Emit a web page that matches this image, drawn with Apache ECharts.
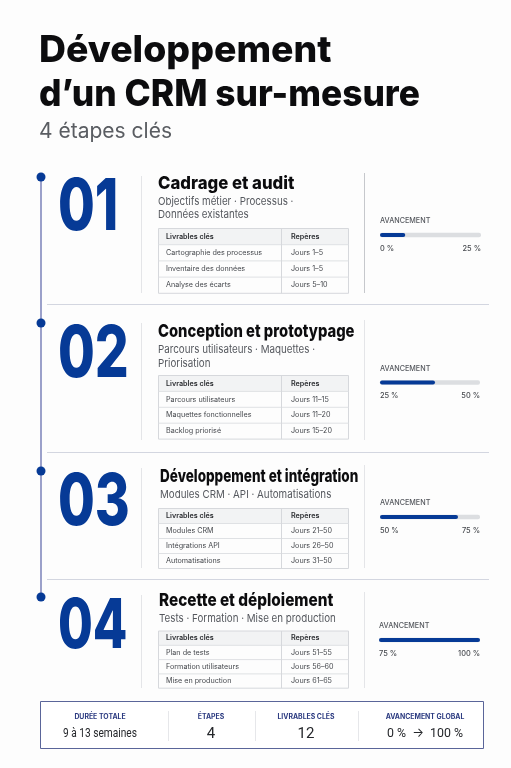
<!DOCTYPE html>
<html lang="fr">
<head>
<meta charset="utf-8">
<title>Développement d’un CRM sur-mesure</title>
<style>
  html, body { margin: 0; padding: 0; background: #fdfdfd; }
  #chart { width: 511px; height: 768px; }
</style>
</head>
<body>
<div id="chart"></div>
<script src="https://cdn.jsdelivr.net/npm/echarts@6/dist/echarts.min.js"></script>
<script>
const titleLines = ['Développement', 'd’un CRM sur-mesure'];
const subtitle = '4 étapes clés';

const stepNumbers = ['01', '02', '03', '04'];
const stepTitles = ['Cadrage et audit', 'Conception et prototypage', 'Développement et intégration', 'Recette et déploiement'];
const stepSubtitles = [
  ['Objectifs métier · Processus ·', 'Données existantes'],
  ['Parcours utilisateurs · Maquettes ·', 'Priorisation'],
  ['Modules CRM · API · Automatisations'],
  ['Tests · Formation · Mise en production']
];
const tableHeaders = ['Livrables clés', 'Repères'];
const deliverables = [
  ['Cartographie des processus', 'Inventaire des données', 'Analyse des écarts'],
  ['Parcours utilisateurs', 'Maquettes fonctionnelles', 'Backlog priorisé'],
  ['Modules CRM', 'Intégrations API', 'Automatisations'],
  ['Plan de tests', 'Formation utilisateurs', 'Mise en production']
];
const milestones = [
  ['Jours 1–5', 'Jours 1–5', 'Jours 5–10'],
  ['Jours 11–15', 'Jours 11–20', 'Jours 15–20'],
  ['Jours 21–50', 'Jours 26–50', 'Jours 31–50'],
  ['Jours 51–55', 'Jours 56–60', 'Jours 61–65']
];
const progressName = 'AVANCEMENT';
const progressFill = [25, 55, 78, 100];
const progressStart = ['0 %', '25 %', '50 %', '75 %'];
const progressEnd = ['25 %', '50 %', '75 %', '100 %'];

const summaryLabels = ['DURÉE TOTALE', 'ÉTAPES', 'LIVRABLES CLÉS', 'AVANCEMENT GLOBAL'];
const summaryValues = ['9 à 13 semaines', '4', '12', '0 %  →  100 %'];

// layout, one entry per step
const layout = [
  { dot: 177, num: 208, numSx: 0.74, numSy: 1, title: 184, titleX: 158, titleSx: 0.93, sub: 201.5, subGap: 13.5, table: 228.5, rowH: 16.2, barTop: 233, barLabel: 221, x: 380, w: 101, divTop: 173, divBot: 293, rule: 304.5 },
  { dot: 323, num: 355, numSx: 0.74, numSy: 1, title: 331.5, titleX: 158, titleSx: 0.82, sub: 350, subGap: 13.5, table: 375.5, rowH: 15.9, barTop: 380.5, barLabel: 369, x: 380, w: 100, divTop: 320, divBot: 440, rule: 452.5 },
  { dot: 471, num: 503, numSx: 0.74, numSy: 1, title: 476.5, titleX: 160, titleSx: 0.75, sub: 494.5, subGap: 13.5, table: 508.5, rowH: 15, barTop: 515, barLabel: 503, x: 380, w: 100, divTop: 465, divBot: 568, rule: 579.5 },
  { dot: 597, num: 627, numSx: 0.7, numSy: 0.95, title: 600.5, titleX: 159, titleSx: 0.85, sub: 618.5, subGap: 13.5, table: 631, rowH: 14.3, barTop: 638, barLabel: 626, x: 379, w: 101, divTop: 592, divBot: 688 }
];
const footerCols = [100, 211, 306, 425];
const footerDividers = [168.5, 255.5, 358.5];
const footerSx = [0.78, 1, 1, 0.95];
const footerFont = [13, 15, 15, 13];

const NAVY = '#063a96';
const LINE = '#5a63a8';
const SANS = 'Inter, "Noto Sans", sans-serif';
const COND = 'Roboto, Inter, sans-serif';

function text(str, x, y, font, fill, opts) {
  const o = opts || {};
  return {
    type: 'text', x: x, y: y, scaleX: o.sx || 1, scaleY: o.sy || 1, silent: true, z: 5,
    style: { text: str, font: font, fill: fill, textAlign: o.align || 'left', textVerticalAlign: 'middle' }
  };
}
function line(x1, y1, x2, y2, color, width, z) {
  return {
    type: 'line', silent: true, z: z || 2,
    shape: { x1: x1, y1: y1, x2: x2, y2: y2 },
    style: { stroke: color, lineWidth: width || 1 }
  };
}
function rect(x, y, w, h, fill, stroke) {
  return {
    type: 'rect', silent: true, z: 1,
    shape: { x: x, y: y, width: w, height: h },
    style: { fill: fill, stroke: stroke || null, lineWidth: 1 }
  };
}

const graphics = [];
graphics.push(text(titleLines[0], 39, 51, '800 37px ' + SANS, '#0c0c0e', { sx: 1.01 }));
graphics.push(text(titleLines[1], 39, 95, '800 37px ' + SANS, '#0c0c0e', { sx: 0.955 }));
graphics.push(text(subtitle, 39, 132, '400 21px ' + SANS, '#5a5d62'));

// timeline
graphics.push(line(41, layout[0].dot, 41, layout[3].dot, LINE, 1.2));

stepNumbers.forEach(function (num, i) {
  const l = layout[i];
  graphics.push({ type: 'circle', silent: true, z: 4, shape: { cx: 41, cy: l.dot, r: 4.5 }, style: { fill: NAVY } });
  graphics.push(text(num, 58, l.num, '800 72px ' + SANS, NAVY, { sx: l.numSx, sy: l.numSy }));
  graphics.push(line(141.5, l.divTop + 3, 141.5, l.divBot, '#e4e5e8'));
  graphics.push(line(364.5, l.divTop, 364.5, l.divBot, i === 0 ? '#c6c8cc' : '#e4e5e8'));
  if (l.rule) graphics.push(line(47, l.rule, 489, l.rule, '#d3d6e0'));

  graphics.push(text(stepTitles[i], l.titleX, l.title, '800 18px ' + SANS, '#0c0c0e', { sx: l.titleSx }));
  stepSubtitles[i].forEach(function (s, j) {
    graphics.push(text(s, l.titleX, l.sub + j * l.subGap, '400 11px ' + SANS, '#55585e', { sx: 0.89 }));
  });

  // table
  const tx = 158.5, tw = 190, colX = 281.5, top = l.table, h = l.rowH;
  graphics.push(rect(tx, top, tw, h, '#f2f3f4'));
  graphics.push(rect(tx, top, tw, h * 4, 'rgba(0,0,0,0)', '#d6d8dc'));
  for (let r = 1; r < 4; r++) graphics.push(line(tx, top + r * h, tx + tw, top + r * h, '#dfe1e4'));
  graphics.push(line(colX, top, colX, top + 4 * h, '#d6d8dc'));
  graphics.push(text(tableHeaders[0], 166, top + h / 2, '600 7.2px ' + SANS, '#2a2c30'));
  graphics.push(text(tableHeaders[1], 291, top + h / 2, '600 7.2px ' + SANS, '#2a2c30'));
  deliverables[i].forEach(function (d, r) {
    graphics.push(text(d, 166, top + (r + 1.5) * h, '400 7.2px ' + SANS, '#46494e'));
    graphics.push(text(milestones[i][r], 291, top + (r + 1.5) * h, '400 7.2px ' + SANS, '#46494e'));
  });

  graphics.push(text(progressName, l.x, l.barLabel, '500 7.2px ' + SANS, '#55585e'));
});

// footer
graphics.push(rect(40.5, 701.5, 443, 47, '#ffffff', '#5a6599'));
footerDividers.forEach(function (x) {
  graphics.push(line(x, 711, x, 741, '#e6e7ea'));
});
footerCols.forEach(function (x, i) {
  graphics.push(text(summaryLabels[i], x, 716.5, '700 6.9px ' + SANS, '#2b3a80', { align: 'center' }));
  graphics.push(text(summaryValues[i], x, 734, '400 ' + footerFont[i] + 'px ' + COND, '#25272b', { align: 'center', sx: footerSx[i] }));
});

// progress bars
const grids = [], xAxes = [], yAxes = [], series = [];
progressFill.forEach(function (value, i) {
  const l = layout[i];
  grids.push({ left: l.x, top: l.barTop, width: l.w, height: 4 });
  xAxes.push({
    type: 'value', gridIndex: i, min: 0, max: 100,
    splitLine: { show: false }, axisLine: { show: false }, axisTick: { show: false },
    axisLabel: {
      customValues: [0, 100], margin: 8, fontSize: 7.4, fontWeight: 500, fontFamily: 'Inter', color: '#46494e',
      alignMinLabel: 'left', alignMaxLabel: 'right',
      formatter: function (v) { return v === 0 ? progressStart[i] : progressEnd[i]; }
    }
  });
  yAxes.push({ type: 'category', gridIndex: i, data: [stepNumbers[i]], show: false });
  series.push({
    type: 'bar', xAxisIndex: i, yAxisIndex: i, data: [value], barWidth: 4.5, silent: true,
    showBackground: true,
    backgroundStyle: { color: '#dcdee1', borderRadius: 2 },
    itemStyle: { color: NAVY, borderRadius: 2 }
  });
});

const chart = echarts.init(document.getElementById('chart'), null, { renderer: 'canvas' });
chart.setOption({
  animation: false,
  backgroundColor: '#fdfdfd',
  grid: grids,
  xAxis: xAxes,
  yAxis: yAxes,
  series: series,
  graphic: { elements: graphics }
});
</script>
</body>
</html>
